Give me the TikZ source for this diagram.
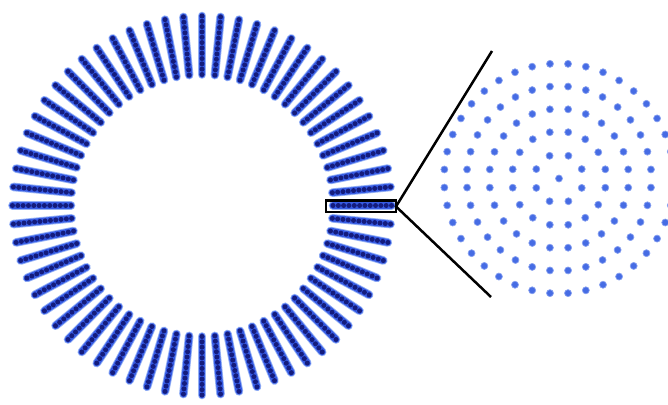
\documentclass[tikz,border=0pt]{standalone}
\definecolor{halo}{RGB}{55,92,228}
\definecolor{haloedge}{RGB}{150,178,245}
\definecolor{core}{RGB}{20,28,125}
\definecolor{xdot}{RGB}{70,108,228}
\definecolor{xedge}{RGB}{135,160,240}
\tikzset{
  spokeedge/.style={haloedge, line width=8.6pt, line cap=round},
  spokebar/.style={halo, line width=6.8pt, line cap=round},
  coredot/.style={fill=core},
  crossdot/.style={fill=xdot, draw=xedge, line width=0.7pt},
  zoomline/.style={black, line width=2.5pt},
}
\begin{document}
\begin{tikzpicture}[x=1pt,y=-1pt]
\useasboundingbox (0,0) rectangle (668,404);
\clip (0,0) rectangle (668,404);
% ring of bundles
\begin{scope}[shift={(202,205.5)}]
\foreach \k in {0,...,63}{
  \pgfmathsetmacro\a{\k*5.625}
  \draw[spokeedge] (\a:131) -- (\a:189.5);
}
\foreach \k in {0,...,63}{
  \pgfmathsetmacro\a{\k*5.625}
  \draw[spokebar] (\a:131) -- (\a:189.5);
  \foreach \j in {0,...,11}{
    \fill[coredot] (\a:{131+\j*5.318}) circle (2.5pt);
  }
}
\end{scope}
% selection box and zoom lines
\coordinate (selA) at (326,200.5);
\coordinate (selB) at (396,212);
\draw[zoomline] (selA) rectangle (selB);
\coordinate (apex) at (396,206.5);
\coordinate (up) at (492,51);
\coordinate (lo) at (491,297);
\draw[zoomline] (up) -- (apex) -- (lo);
% cross-section
\begin{scope}[shift={(559,178.5)}]
\fill[crossdot] (0,0) circle (3.5pt);
\foreach \k in {1,...,5}{
  \pgfmathtruncatemacro\n{8*\k}
  \pgfmathsetmacro\r{22.6*\k+2}
  \pgfmathsetmacro\st{360/\n}
  \foreach \m in {1,...,\n}{
    \filldraw[crossdot] ({(\m-0.5)*\st}:\r) circle (3.5pt);
  }
}
\end{scope}
\end{tikzpicture}
\end{document}
